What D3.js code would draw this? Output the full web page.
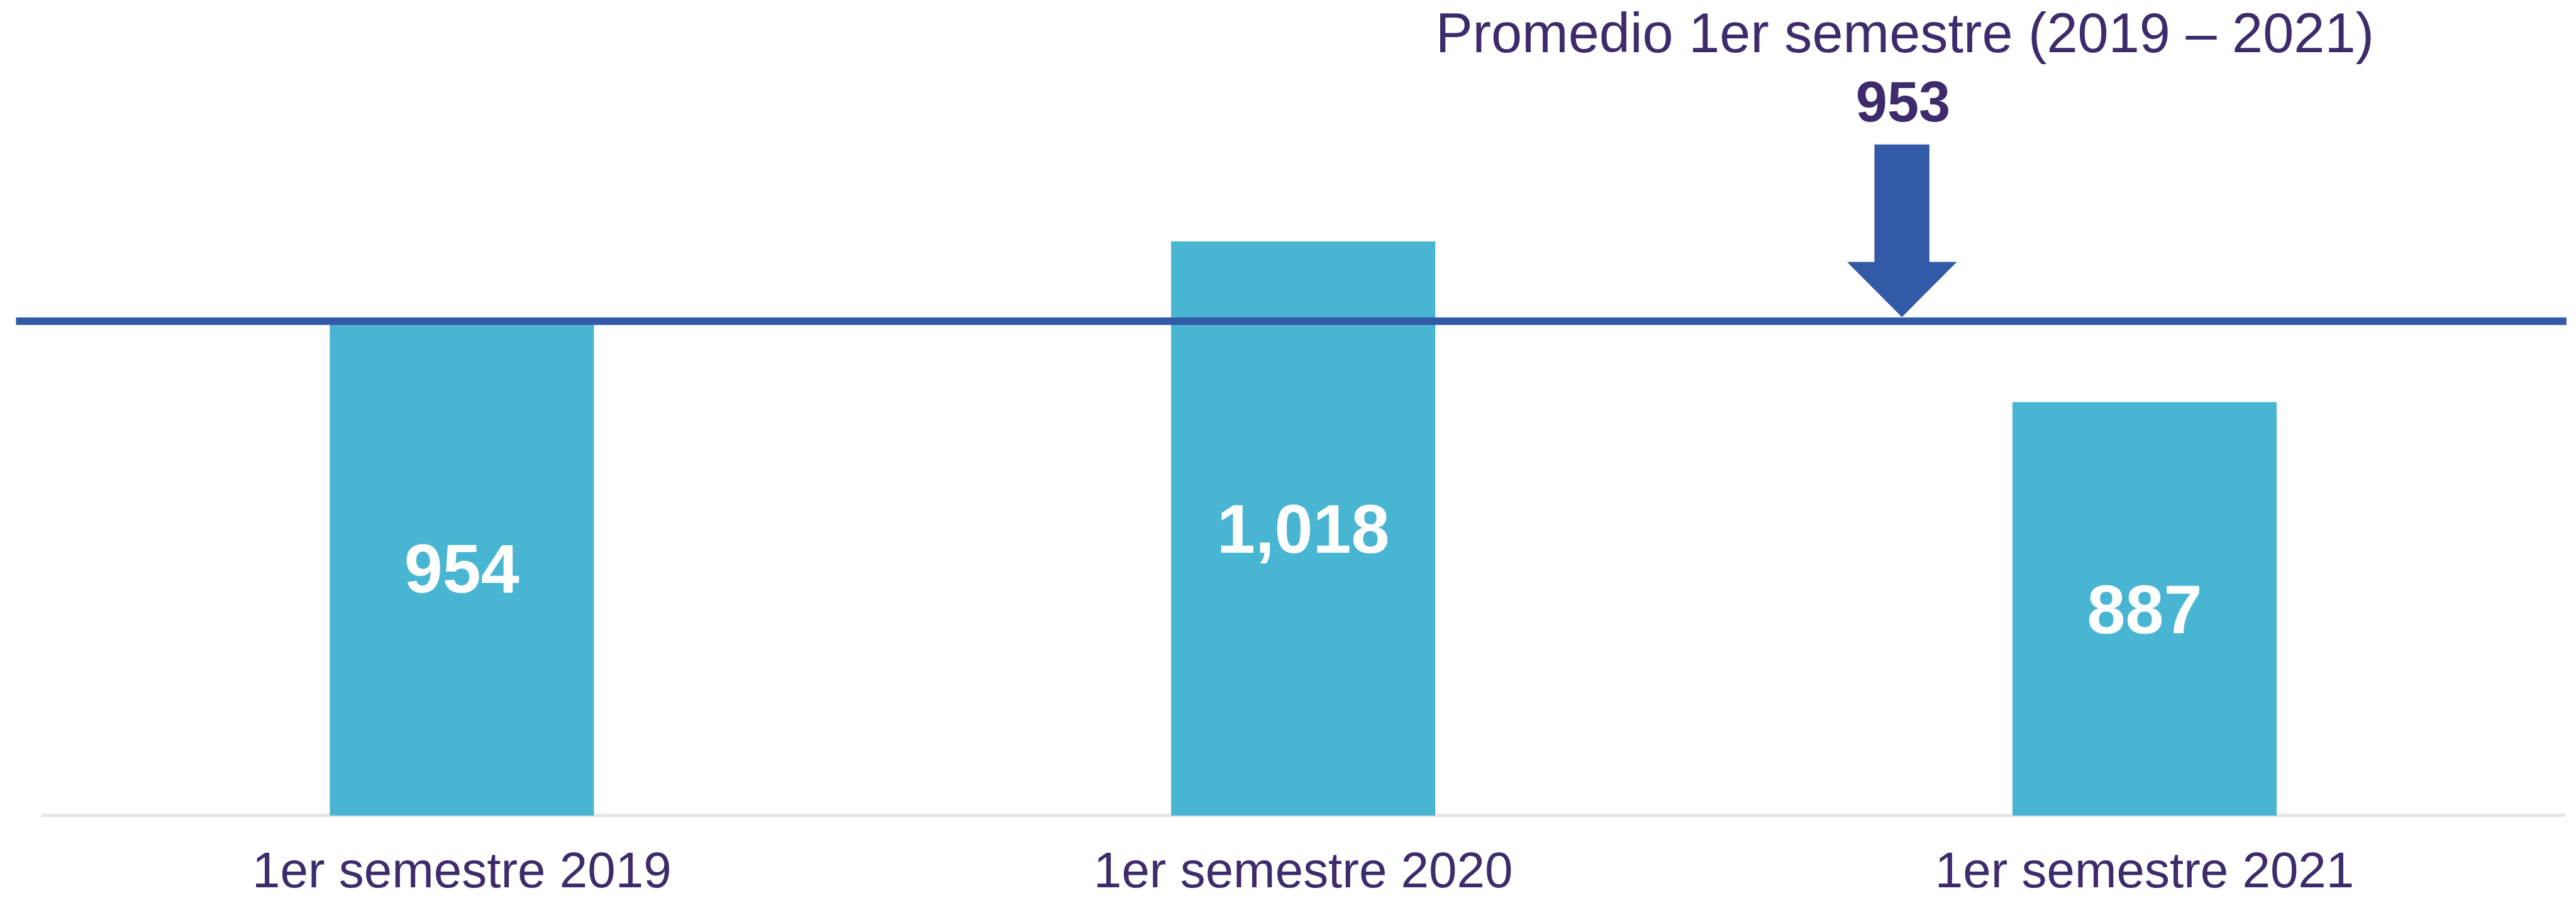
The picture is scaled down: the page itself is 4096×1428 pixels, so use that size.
<!DOCTYPE html>
<html>
<head>
<meta charset="utf-8">
<script src="https://cdn.jsdelivr.net/npm/d3@7"></script>
<style>
    html, body { margin: 0; padding: 0; background: #fff; overflow: hidden; }
    text { font-family: "Liberation Sans", Arial, Helvetica, sans-serif; }
</style>
</head>
<body>
<div id="chart"></div>
<script>
// data
const categories = ["1er semestre 2019", "1er semestre 2020", "1er semestre 2021"]
const values = [954, 1018, 887]
const average = 953
const averageTitle = "Promedio 1er semestre (2019 – 2021)"
const yDomain = [550, 1200]

const purple = "#3d2b6b"
const barColor = "#48b5d2"
const lineColor = "#335aa6"

// draw in reference units, viewBox shrinks it to the window
const W = 4405, H = 1536
const baseY = 1395

const svg = d3.select("#chart")
    .append("svg")
    .attr("width", 4096)
    .attr("height", 1428)
    .attr("viewBox", `0 0 ${W} ${H}`)

const x = d3.scaleBand()
    .domain(categories)
    .range([70, 4387])
    .paddingInner(0.686)
    .paddingOuter(0.343)

const y = d3.scaleLinear()
    .domain(yDomain)
    .range([baseY, 31])

// x axis: light baseline + category labels
const xAxis = svg.append("g")
    .attr("transform", `translate(0, ${baseY - 1})`)
    .call(d3.axisBottom(x).tickSize(0).tickPadding(63))
xAxis.select(".domain")
    .attr("stroke", "#e6e6e6")
    .attr("stroke-width", 6)
xAxis.selectAll("text")
    .attr("fill", purple)
    .style("font-size", "86px")
    .style("font-family", '"Liberation Sans", Arial, sans-serif')

const data = categories.map((c, i) => ({cat: c, val: values[i]}))

svg.selectAll(".bar")
    .data(data)
    .join("rect")
    .attr("class", "bar")
    .attr("x", d => x(d.cat))
    .attr("y", d => y(d.val))
    .attr("width", x.bandwidth())
    .attr("height", d => baseY - y(d.val))
    .attr("fill", barColor)

// value labels, centred in each bar
const fmt = d3.format(",")
svg.selectAll(".val")
    .data(data)
    .join("text")
    .attr("class", "val")
    .attr("x", d => x(d.cat) + x.bandwidth() / 2)
    .attr("y", d => (y(d.val) + baseY) / 2 + 42)
    .attr("text-anchor", "middle")
    .attr("fill", "#fff")
    .style("font-size", "118px")
    .style("font-weight", "bold")
    .text(d => fmt(d.val))

// average line
const avgY = y(average)
svg.append("line")
    .attr("x1", 27)
    .attr("x2", x.range()[1] + 2)
    .attr("y1", avgY)
    .attr("y2", avgY)
    .attr("stroke", lineColor)
    .attr("stroke-width", 13)

// arrow pointing at the average line
const ax = x(categories[2]) + x.bandwidth() / 2 - 415
const tipY = avgY - 7
const arrow = [
    [ax - 47, 247], [ax + 47, 247], [ax + 47, 448], [ax + 94, 448],
    [ax, tipY], [ax - 94, 448], [ax - 47, 448]
]
svg.append("path")
    .attr("d", d3.line()(arrow) + "Z")
    .attr("fill", lineColor)

svg.append("text")
    .attr("x", ax + 5)
    .attr("y", 89)
    .attr("text-anchor", "middle")
    .attr("fill", purple)
    .style("font-size", "95px")
    .text(averageTitle)

svg.append("text")
    .attr("x", ax + 2)
    .attr("y", 208)
    .attr("text-anchor", "middle")
    .attr("fill", purple)
    .style("font-size", "97px")
    .style("font-weight", "bold")
    .text(fmt(average))
</script>
</body>
</html>
